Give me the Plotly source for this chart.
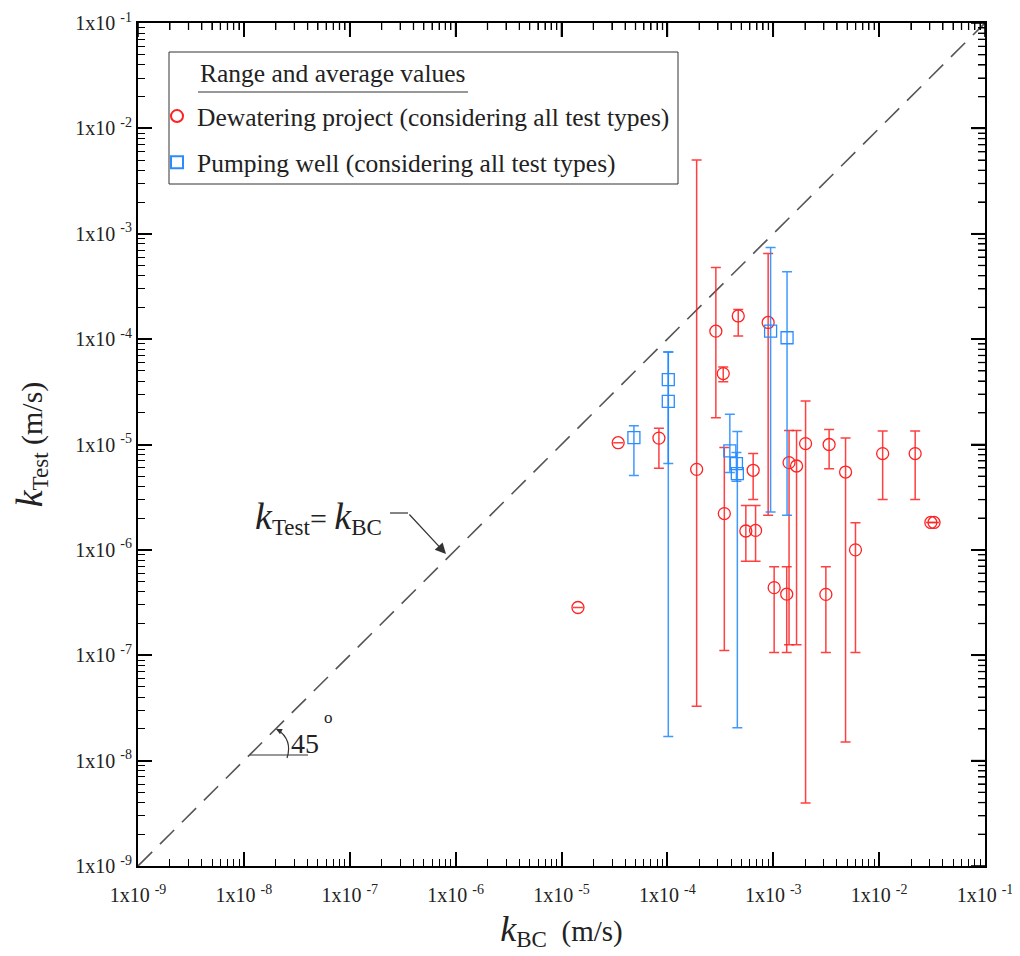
import math
import plotly.graph_objects as go

# ---- Data ----
dew_kbc = [1.43e-5, 3.43e-5, 8.32e-5, 1.89e-4, 2.87e-4, 3.37e-4, 3.45e-4, 4.67e-4, 5.51e-4,
           6.46e-4, 6.81e-4, 8.95e-4, 1.02e-3, 1.34e-3, 1.41e-3, 1.66e-3, 2.02e-3, 3.14e-3,
           3.37e-3, 4.82e-3, 5.98e-3, 1.08e-2, 2.19e-2, 3.08e-2, 3.30e-2]
dew_avg = [2.84e-7, 1.04e-5, 1.15e-5, 5.81e-6, 1.19e-4, 4.71e-5, 2.21e-6, 1.66e-4, 1.51e-6,
           5.69e-6, 1.53e-6, 1.44e-4, 4.38e-7, 3.80e-7, 6.73e-6, 6.25e-6, 1.02e-5, 3.78e-7,
           1.00e-5, 5.48e-6, 1.00e-6, 8.20e-6, 8.20e-6, 1.82e-6, 1.82e-6]
dew_max = [2.84e-7, 1.04e-5, 1.43e-5, 5.0e-3, 4.79e-4, 5.45e-5, 9.35e-6, 1.91e-4, 2.63e-6,
           8.20e-6, 2.63e-6, 6.50e-4, 6.93e-7, 6.93e-7, 1.36e-5, 1.36e-5, 2.59e-5, 6.93e-7,
           1.39e-5, 1.15e-5, 1.81e-6, 1.34e-5, 1.34e-5, 1.82e-6, 1.82e-6]
dew_min = [2.84e-7, 1.04e-5, 5.94e-6, 3.29e-8, 1.79e-5, 3.93e-5, 1.11e-7, 1.07e-4, 7.78e-7,
           3.00e-6, 7.78e-7, 2.13e-6, 1.06e-7, 1.06e-7, 1.26e-7, 1.26e-7, 3.97e-9, 1.06e-7,
           5.90e-6, 1.50e-8, 1.06e-7, 3.00e-6, 3.00e-6, 1.82e-6, 1.82e-6]

pw_kbc = [4.83e-5, 1.02e-4, 1.02e-4, 3.89e-4, 4.49e-4, 4.58e-4, 9.44e-4, 1.35e-3]
pw_avg = [1.16e-5, 4.13e-5, 2.57e-5, 8.71e-6, 6.59e-6, 5.30e-6, 1.19e-4, 1.03e-4]
pw_max = [1.51e-5, 7.55e-5, 7.55e-5, 1.94e-5, 8.38e-6, 1.33e-5, 7.41e-4, 4.35e-4]
pw_min = [5.07e-6, 6.59e-6, 1.69e-8, 5.41e-6, 4.47e-6, 2.05e-8, 2.29e-6, 2.13e-6]

diag = [1e-9, 1e-1]
tick_vals = [1e-9, 1e-8, 1e-7, 1e-6, 1e-5, 1e-4, 1e-3, 1e-2, 1e-1]
tick_text = ["1x10 <sup>-9</sup>", "1x10 <sup>-8</sup>", "1x10 <sup>-7</sup>", "1x10 <sup>-6</sup>",
             "1x10 <sup>-5</sup>", "1x10 <sup>-4</sup>", "1x10 <sup>-3</sup>", "1x10 <sup>-2</sup>",
             "1x10 <sup>-1</sup>"]
minor_vals = [m * 10.0 ** e for e in range(-9, -1) for m in range(2, 10)]

RED = "#ff2222"
BLUE = "#2a8cff"
FONT = "Liberation Serif"
TXT = "#222222"
LOG_LO, LOG_HI = -9, -1

# page offset (body margin of 8px in the html page)
OFF = 8
W, H = 1020 - OFF, 956 - OFF
L, R, T, B = 138 - OFF, 35, 23 - OFF, 90
PW, PH = W - L - R, H - T - B
MAJ, MIN = 14, 7

fig = go.Figure()

fig.add_trace(go.Scatter(
    x=diag, y=diag, mode="lines", showlegend=False, hoverinfo="skip",
    line=dict(color="#555555", width=1.6, dash="20px,11px")))

fig.add_trace(go.Scatter(
    x=dew_kbc, y=dew_avg, mode="markers", legendgroup="a",
    name="Dewatering project (considering all test types)",
    marker=dict(symbol="circle-open", size=12, color=RED, line=dict(width=1.3, color=RED)),
    error_y=dict(type="data", symmetric=False,
                 array=[h - a for h, a in zip(dew_max, dew_avg)],
                 arrayminus=[a - l for a, l in zip(dew_avg, dew_min)],
                 color="rgba(255,30,30,0.85)", thickness=1.5, width=5)))

fig.add_trace(go.Scatter(
    x=pw_kbc, y=pw_avg, mode="markers", legendgroup="b",
    name="Pumping well (considering all test types)",
    marker=dict(symbol="square-open", size=12, color=BLUE, line=dict(width=1.3, color=BLUE)),
    error_y=dict(type="data", symmetric=False,
                 array=[h - a for h, a in zip(pw_max, pw_avg)],
                 arrayminus=[a - l for a, l in zip(pw_avg, pw_min)],
                 color="rgba(30,135,255,0.85)", thickness=1.5, width=5)))

axis_common = dict(
    type="log", range=[LOG_LO, LOG_HI], tickmode="array", tickvals=tick_vals, ticktext=tick_text,
    ticks="inside", ticklen=MAJ, tickwidth=1.6, tickcolor="black",
    showgrid=False, zeroline=False,
    showline=True, linewidth=2, linecolor="black", mirror="ticks",
    tickfont=dict(family=FONT, size=20, color=TXT),
    minor=dict(ticks="inside", ticklen=MIN, tickwidth=1.3, tickcolor="black",
               tickmode="array", tickvals=minor_vals, showgrid=False),
)

fig.update_layout(
    width=W, height=H,
    margin=dict(l=L, r=R, t=T, b=B, autoexpand=False),
    paper_bgcolor="white", plot_bgcolor="white",
    font=dict(family=FONT, color=TXT),
    xaxis=dict(**axis_common, ticklabelstandoff=10,
               title=dict(text="<span style='font-size:36px'><i>k</i></span><sub><span style='font-size:23px'>BC</span></sub>  (m/s)",
                          font=dict(family=FONT, size=29, color=TXT), standoff=16)),
    yaxis=dict(**axis_common,
               title=dict(text="<span style='font-size:38px'><i>k</i></span><sub><span style='font-size:23px'>Test</span></sub> (m/s)",
                          font=dict(family=FONT, size=30, color=TXT), standoff=24)),
    legend=dict(
        x=(157 - 138) / 847, y=1 - (93 - 23) / 843, xanchor="left", yanchor="top",
        bgcolor="rgba(255,255,255,0)", borderwidth=0,
        font=dict(family=FONT, size=25.5, color=TXT),
        itemwidth=30, tracegroupgap=10, itemsizing="constant",
    ),
)

def PX(px):
    return (px - 138) / 847
def PY(py):
    return 1 - (py - 23) / 843
def frac(v):
    return (math.log10(v) - LOG_LO) / (LOG_HI - LOG_LO)

# mirrored ticks on the top and right frame edges (positions from the tick lists)
for v in tick_vals + minor_vals:
    ln = MAJ if v in tick_vals else MIN
    lw = 1.6 if v in tick_vals else 1.3
    f = frac(v)
    fig.add_shape(type="line", xref="paper", yref="paper", x0=f, x1=f,
                  y0=1, y1=1 - ln / PH, line=dict(color="black", width=lw), layer="above")
    fig.add_shape(type="line", xref="paper", yref="paper", y0=f, y1=f,
                  x0=1, x1=1 - ln / PW, line=dict(color="black", width=lw), layer="above")

# legend frame, title and its underline
fig.add_shape(type="rect", xref="paper", yref="paper",
              x0=PX(169), x1=PX(678), y0=PY(52), y1=PY(184),
              line=dict(color="#333333", width=1), fillcolor="rgba(0,0,0,0)")
fig.add_annotation(x=PX(198), y=PY(73), xref="paper", yref="paper",
                   xanchor="left", yanchor="middle", showarrow=False,
                   text="Range and average values",
                   font=dict(family=FONT, size=25.5, color=TXT))
fig.add_shape(type="line", xref="paper", yref="paper",
              x0=PX(198), x1=PX(468), y0=PY(92), y1=PY(92),
              line=dict(color="#333333", width=1.2))

# k_Test = k_BC label with arrow
fig.add_annotation(
    x=PX(384), y=PY(517), xref="paper", yref="paper", xanchor="right", yanchor="middle",
    text="<span style='font-size:38px'><i>k</i></span><sub><span style='font-size:23px'>Test</span></sub><span style='font-size:30px'>= </span><span style='font-size:38px'><i>k</i></span><sub><span style='font-size:23px'>BC</span></sub>",
    showarrow=False, font=dict(family=FONT, size=27, color=TXT))
fig.add_shape(type="line", xref="paper", yref="paper",
              x0=PX(390), x1=PX(408), y0=PY(513), y1=PY(513),
              line=dict(color="#333333", width=1.2))
fig.add_annotation(
    x=PX(446), y=PY(554), xref="paper", yref="paper",
    ax=-38, ay=-41, axref="pixel", ayref="pixel",
    text="", showarrow=True, arrowhead=2, arrowsize=1.8, arrowwidth=1.2, arrowcolor="#333333")

# 45 degree mark
fig.add_shape(type="line", xref="paper", yref="paper",
              x0=PX(250), x1=PX(308), y0=PY(755), y1=PY(755),
              line=dict(color="#333333", width=1.2))
fig.add_shape(type="path", xref="paper", yref="paper",
              path=f"M {PX(277):.5f},{PY(729):.5f} Q {PX(293):.5f},{PY(740):.5f} {PX(287):.5f},{PY(758):.5f}",
              line=dict(color="#333333", width=1.2))
fig.add_annotation(
    x=PX(276), y=PY(729), xref="paper", yref="paper",
    ax=6, ay=3, axref="pixel", ayref="pixel",
    text="", showarrow=True, arrowhead=2, arrowsize=1, arrowwidth=1.2, arrowcolor="#333333")
fig.add_annotation(
    x=PX(289), y=PY(743), xref="paper", yref="paper",
    xanchor="left", yanchor="middle", showarrow=False,
    text="45", font=dict(family=FONT, size=28, color=TXT))
fig.add_annotation(
    x=PX(322), y=PY(717), xref="paper", yref="paper",
    xanchor="left", yanchor="middle", showarrow=False,
    text="o", font=dict(family=FONT, size=17, color=TXT))

fig.write_html("out.html")
